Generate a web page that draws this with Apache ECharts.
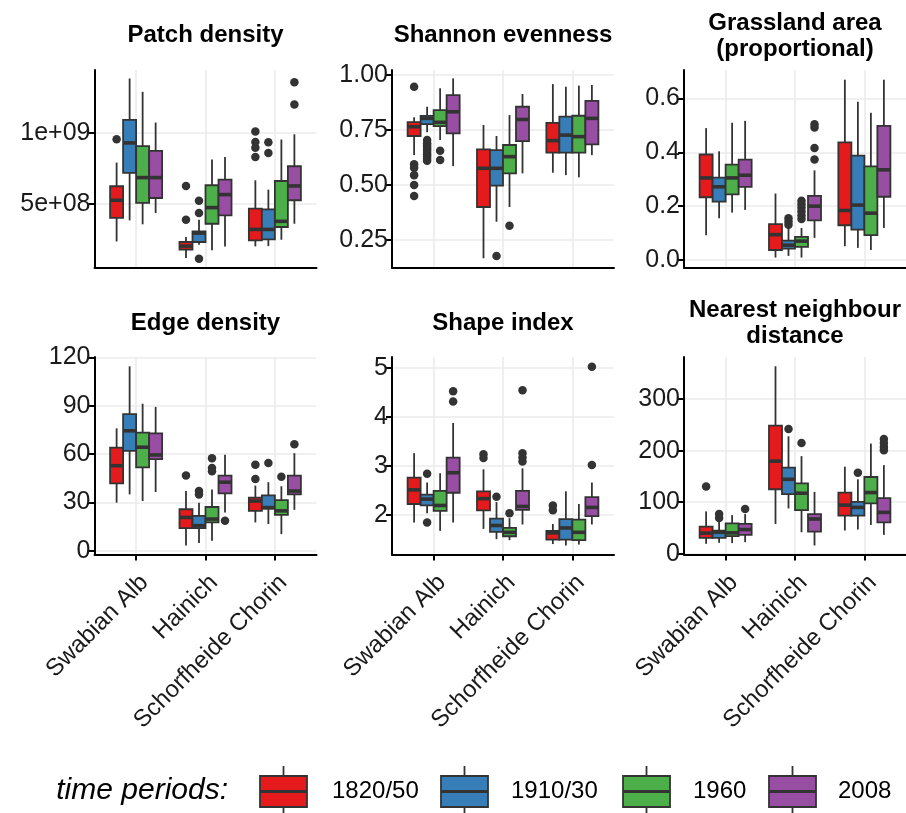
<!DOCTYPE html>
<html><head><meta charset="utf-8">
<script src="https://cdn.jsdelivr.net/npm/echarts@6/dist/echarts.min.js"></script>
<style>html,body{margin:0;padding:0;background:#fff}#c{width:906px;height:813px}</style>
</head><body><div id="c"></div>
<script>
// ---------------- data ----------------
const regions = ['Swabian Alb', 'Hainich', 'Schorfheide Chorin'];
const periods = ['1820/50', '1910/30', '1960', '2008'];
const colors = ['#E41A1C', '#377EB8', '#4DAF4A', '#984EA3'];

// stats: [region][period] = [lower whisker, Q1, median, Q3, upper whisker]
const patchDensity = [
  [[2.33e8,3.99e8,5.24e8,6.23e8,7.9e8],[3.82e8,7.17e8,9.29e8,10.92e8,13.84e8],[3.54e8,5.05e8,6.84e8,9.06e8,12.9e8],[4.34e8,5.4e8,6.84e8,8.73e8,10.73e8]],
  [[1.16e8,1.75e8,2.0e8,2.29e8,2.64e8],[2.1e8,2.29e8,2.92e8,3.04e8,3.87e8],[1.7e8,3.58e8,4.72e8,6.3e8,8.11e8],[1.98e8,4.17e8,5.64e8,6.7e8,8.3e8]],
  [[1.98e8,2.41e8,3.18e8,4.65e8,6.65e8],[2.0e8,2.48e8,3.18e8,4.6e8,5.99e8],[2.45e8,3.35e8,3.75e8,6.6e8,9.53e8],[3.58e8,5.24e8,6.25e8,7.64e8,9.9e8]]
];
// outliers: [region index, period index, value]
const patchDensityOut = [[0,0,9.55e8],[1,0,6.25e8],[1,0,3.87e8],[1,1,5.21e8],[1,1,4.34e8],[1,1,1.11e8],
  [2,0,10.1e8],[2,0,9.35e8],[2,0,8.95e8],[2,0,8.3e8],[2,1,9.34e8],[2,1,8.58e8],[2,3,13.58e8],[2,3,12.0e8]];

const shannon = [
  [[0.636,0.723,0.765,0.786,0.808],[0.74,0.777,0.803,0.814,0.856],[0.705,0.768,0.785,0.841,0.94],[0.586,0.735,0.833,0.909,0.985]],
  [[0.167,0.40,0.576,0.662,0.773],[0.333,0.497,0.576,0.659,0.723],[0.40,0.553,0.629,0.682,0.818],[0.553,0.70,0.798,0.856,0.914]],
  [[0.556,0.647,0.702,0.783,0.959],[0.545,0.647,0.727,0.811,0.947],[0.535,0.647,0.72,0.815,0.952],[0.636,0.685,0.803,0.883,0.955]]
];
const shannonOut = [[0,0,0.947],[0,0,0.595],[0,0,0.578],[0,0,0.545],[0,0,0.50],[0,0,0.45],
  [0,1,0.705],[0,1,0.69],[0,1,0.68],[0,1,0.67],[0,1,0.66],[0,1,0.65],[0,1,0.64],[0,1,0.63],[0,1,0.62],[0,1,0.61],
  [0,2,0.656],[0,2,0.614],[1,1,0.177],[1,2,0.315]];

const grassland = [
  [[0.092,0.233,0.305,0.392,0.49],[0.155,0.217,0.272,0.306,0.404],[0.176,0.244,0.305,0.354,0.51],[0.186,0.272,0.315,0.373,0.517]],
  [[0.009,0.037,0.094,0.133,0.247],[0.015,0.042,0.055,0.072,0.119],[0.009,0.049,0.07,0.086,0.119],[0.082,0.147,0.20,0.238,0.333]],
  [[0.051,0.129,0.184,0.437,0.67],[0.045,0.113,0.204,0.388,0.588],[0.037,0.092,0.174,0.348,0.547],[0.119,0.235,0.335,0.498,0.67]]
];
const grasslandOut = [[1,1,0.155],[1,1,0.143],[1,1,0.131],
  [1,2,0.22],[1,2,0.207],[1,2,0.194],[1,2,0.18],[1,2,0.165],[1,2,0.152],
  [1,3,0.504],[1,3,0.492],[1,3,0.416],[1,3,0.373]];

const edgeDensity = [
  [[29.9,41.8,52.8,64.1,76],[35,62,74.5,84.8,114.5],[30.9,51.8,64.3,73.3,91.3],[36.5,56.9,59.5,72.9,89.3]],
  [[3.3,14.1,20.7,25.8,37.1],[4.9,14.1,15.6,21.7,29.9],[6.3,17.6,19.7,27.2,38.1],[23.8,35.6,42.6,46.7,59.6]],
  [[17.6,24.8,30.9,33.0,40.5],[16.6,26.2,26.8,34.4,42.6],[10.4,22.3,24.8,31.5,40.1],[25.4,35.0,37.1,46.7,60.6]]
];
const edgeDensityOut = [[1,0,46.7],[1,1,37.1],[1,1,35],[1,2,57.5],[1,2,51.4],[1,2,49.4],[1,3,18.6],
  [2,0,53.4],[2,0,44.6],[2,1,54.5],[2,2,45.9],[2,3,66.1]];

const shapeIndex = [
  [[1.84,2.22,2.51,2.76,3.26],[2.03,2.19,2.32,2.41,2.66],[1.67,2.08,2.19,2.49,2.85],[1.84,2.45,2.86,3.17,3.88]],
  [[1.71,2.09,2.33,2.48,2.93],[1.50,1.65,1.78,1.92,2.26],[1.48,1.56,1.64,1.73,1.93],[1.80,2.10,2.17,2.49,2.95]],
  [[1.40,1.49,1.63,1.67,1.81],[1.37,1.49,1.73,1.91,2.48],[1.39,1.48,1.64,1.90,2.22],[1.80,1.97,2.15,2.36,2.66]]
];
const shapeIndexOut = [[0,1,2.84],[0,1,1.84],[0,3,4.53],[0,3,4.32],[1,0,3.24],[1,0,3.16],[1,1,2.37],[1,2,2.03],
  [1,3,4.55],[1,3,3.26],[1,3,3.17],[1,3,3.09],[2,0,2.19],[2,0,2.09],[2,3,5.03],[2,3,3.02]];

const nearestNeighbour = [
  [[19.3,30.8,40,52.7,82.2],[21.2,30.8,41.7,45,64],[20.6,34,40.5,59.1,75],[22.5,36.6,46.9,57.8,77]],
  [[57.8,125.2,179.8,248.6,364],[88,115.6,144.5,167,228],[41.7,84.8,117.5,136.8,189.5],[16,43,67.4,77,120]],
  [[45,73.9,94.4,118.8,169],[47,73.9,90,100.8,144.5],[55.9,97.6,118.8,149,213.9],[36.6,61,80.3,107.9,172]]
];
const nearestNeighbourOut = [[0,0,130.4],[0,1,77],[0,1,69.4],[0,3,86.7],[1,1,242],[1,2,215],
  [2,1,157.4],[2,3,223],[2,3,215],[2,3,207],[2,3,201]];

// tick labels per panel
const ticks1 = [5e8, 1e9], labels1 = ['5e+08', '1e+09'];
const ticks2 = [0.25, 0.5, 0.75, 1.0], labels2 = ['0.25', '0.50', '0.75', '1.00'];
const ticks3 = [0, 0.2, 0.4, 0.6], labels3 = ['0.0', '0.2', '0.4', '0.6'];
const ticks4 = [0, 30, 60, 90, 120], labels4 = ['0', '30', '60', '90', '120'];
const ticks5 = [2, 3, 4, 5], labels5 = ['2', '3', '4', '5'];
const ticks6 = [0, 100, 200, 300], labels6 = ['0', '100', '200', '300'];

// ---------------- layout ----------------
const FONT = 'Liberation Sans, Arial, Helvetica, sans-serif';
const BOXW = 0.1875; // dodge width 0.75 split among 4 periods
const panels = [
  {title: 'Patch density', stats: patchDensity, out: patchDensityOut, min: 0.49e8, max: 14.44e8, ticks: ticks1, labels: labels1, left: 94.5, top: 70, tt: 22},
  {title: 'Shannon evenness', stats: shannon, out: shannonOut, min: 0.125, max: 1.023, ticks: ticks2, labels: labels2, left: 392, top: 70, tt: 22},
  {title: 'Grassland area\n(proportional)', stats: grassland, out: grasslandOut, min: -0.028, max: 0.706, ticks: ticks3, labels: labels3, left: 684, top: 70, tt: 10},
  {title: 'Edge density', stats: edgeDensity, out: edgeDensityOut, min: -2.3, max: 120.3, ticks: ticks4, labels: labels4, left: 94.5, top: 357, tt: 310},
  {title: 'Shape index', stats: shapeIndex, out: shapeIndexOut, min: 1.186, max: 5.23, ticks: ticks5, labels: labels5, left: 392, top: 357, tt: 310},
  {title: 'Nearest neighbour\ndistance', stats: nearestNeighbour, out: nearestNeighbourOut, min: -1.5, max: 382, ticks: ticks6, labels: labels6, left: 684, top: 357, tt: 297}
];
const PW = 222, PH = 197.5;

function renderBox(params, api) {
  const x = api.value(0);
  const lo = api.value(1), q1 = api.value(2), med = api.value(3), q3 = api.value(4), hi = api.value(5);
  const h = BOXW / 2;
  const tl = api.coord([x - h, q3]);
  const br = api.coord([x + h, q1]);
  const top = api.coord([x, hi]), bot = api.coord([x, lo]);
  const cq3 = api.coord([x, q3]), cq1 = api.coord([x, q1]);
  const ml = api.coord([x - h, med]), mr = api.coord([x + h, med]);
  const ls = {stroke: '#333333', lineWidth: 1.8};
  return {
    type: 'group',
    children: [
      {type: 'line', shape: {x1: top[0], y1: top[1], x2: cq3[0], y2: cq3[1]}, style: ls},
      {type: 'line', shape: {x1: cq1[0], y1: cq1[1], x2: bot[0], y2: bot[1]}, style: ls},
      {type: 'rect', shape: {x: tl[0], y: tl[1], width: br[0] - tl[0], height: br[1] - tl[1]},
        style: {fill: api.visual('color'), stroke: '#333333', lineWidth: 1.8}},
      {type: 'line', shape: {x1: ml[0], y1: ml[1], x2: mr[0], y2: mr[1]}, style: {stroke: '#333333', lineWidth: 3.6}}
    ]
  };
}

const grid = [], xAxis = [], yAxis = [], series = [], title = [];
panels.forEach((p, i) => {
  const bottomRow = i >= 3;
  grid.push({left: p.left, top: p.top, width: PW, height: PH});
  title.push({text: p.title, left: p.left + PW / 2, top: p.tt, textAlign: 'center', padding: 0,
    textStyle: {fontFamily: FONT, fontSize: 24, fontWeight: 'bold', color: '#000', lineHeight: 26}});
  xAxis.push({
    gridIndex: i, type: 'value', min: 0.4, max: 3.6,
    axisLine: {show: true, onZero: false, lineStyle: {color: '#000', width: 2}},
    axisTick: {show: bottomRow, customValues: [1, 2, 3], length: 6, lineStyle: {color: '#000', width: 2}},
    axisLabel: {show: bottomRow, customValues: [1, 2, 3], formatter: v => regions[Math.round(v) - 1],
      rotate: 45, verticalAlign: 'top', fontSize: 24, fontFamily: FONT, color: '#1a1a1a', margin: 16},
    splitLine: {show: true, lineStyle: {color: '#ebebeb', width: 1.6}}
  });
  yAxis.push({
    gridIndex: i, type: 'value', min: p.min, max: p.max,
    axisLine: {show: true, onZero: false, lineStyle: {color: '#000', width: 2}},
    axisTick: {show: true, customValues: p.ticks, length: 6, lineStyle: {color: '#000', width: 2}},
    axisLabel: {show: true, customValues: p.ticks,
      formatter: v => p.labels[p.ticks.findIndex(t => Math.abs(t - v) <= 1e-9 * Math.max(1, Math.abs(t)))],
      fontSize: 25, fontFamily: FONT, color: '#1a1a1a', margin: 4},
    splitLine: {show: true, lineStyle: {color: '#ebebeb', width: 1.6}}
  });
  periods.forEach((name, k) => {
    series.push({
      type: 'custom', name: name, xAxisIndex: i, yAxisIndex: i,
      itemStyle: {color: colors[k]},
      renderItem: renderBox,
      encode: {x: 0, y: [1, 2, 3, 4, 5]},
      data: p.stats.map((st, r) => [r + 1 + (k - 1.5) * BOXW].concat(st[k])),
      z: 2, silent: true
    });
  });
  series.push({
    type: 'scatter', name: 'outliers', xAxisIndex: i, yAxisIndex: i,
    symbolSize: 8.5, itemStyle: {color: '#333333', opacity: 1},
    data: p.out.map(o => [o[0] + 1 + (o[1] - 1.5) * BOXW, o[2]]),
    z: 3, silent: true
  });
});

// legend (drawn as graphic keys mimicking ggplot boxplot keys)
const keyX = [260, 441, 623, 769], labX = [332, 511, 693, 838];
const graphic = [{type: 'text', x: 228, y: 791,
  style: {text: 'time periods:', fontFamily: FONT, fontSize: 30, fontStyle: 'italic', fill: '#000', align: 'right', verticalAlign: 'middle'}}];
periods.forEach((name, k) => {
  const x0 = keyX[k], cx = x0 + 23.5;
  graphic.push({type: 'line', shape: {x1: cx, y1: 766, x2: cx, y2: 776}, style: {stroke: '#333333', lineWidth: 1.8}});
  graphic.push({type: 'line', shape: {x1: cx, y1: 807, x2: cx, y2: 816}, style: {stroke: '#333333', lineWidth: 1.8}});
  graphic.push({type: 'rect', shape: {x: x0, y: 776, width: 47, height: 31}, style: {fill: colors[k], stroke: '#333333', lineWidth: 1.8}});
  graphic.push({type: 'line', shape: {x1: x0, y1: 791.5, x2: x0 + 47, y2: 791.5}, style: {stroke: '#333333', lineWidth: 3}});
  graphic.push({type: 'text', x: labX[k], y: 791,
    style: {text: name, fontFamily: FONT, fontSize: 24, fill: '#000', align: 'left', verticalAlign: 'middle'}});
});

const chart = echarts.init(document.getElementById('c'), null, {renderer: 'canvas'});
chart.setOption({
  backgroundColor: '#fff',
  animation: false,
  title: title,
  grid: grid,
  xAxis: xAxis,
  yAxis: yAxis,
  series: series,
  graphic: graphic
});
</script>
</body></html>
